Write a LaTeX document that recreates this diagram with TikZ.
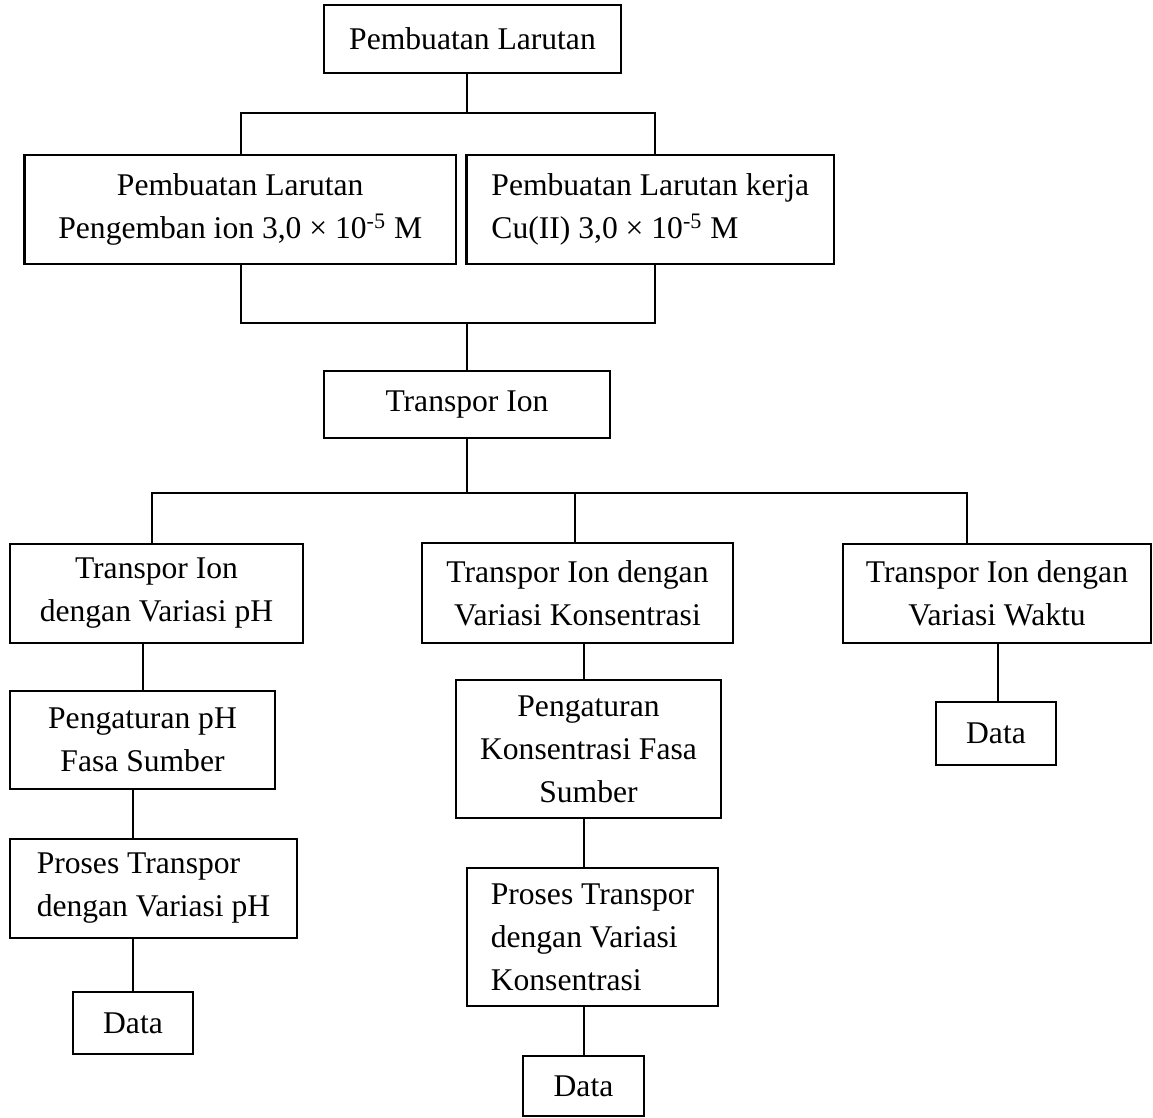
\documentclass[tikz,border=0pt]{standalone}
\usepackage{fontspec}
\setmainfont{Liberation Serif}
\begin{document}
\begin{tikzpicture}[x=0.5pt,y=-0.5pt,
  box/.style={draw,line width=1.1pt,inner sep=0pt,align=center,
    font=\fontsize{15.8pt}{21.5pt}\selectfont},
  lbox/.style={box,align=left},
  conn/.style={line width=1pt}]
\useasboundingbox (0,0) rectangle (1153,1118);
% boxes
\node[box,minimum width=148.5pt,minimum height=34pt] (b1) at (472.5,39) {Pembuatan Larutan};
\node[box,minimum width=215.75pt,minimum height=54.5pt] (b2) at (240.25,209.5) {Pembuatan Larutan\\Pengemban ion 3,0 × 10\textsuperscript{-5} M};
\node[lbox,minimum width=183.75pt,minimum height=54.5pt] (b3) at (650.25,209.5) {Pembuatan Larutan kerja\\Cu(II) 3,0 × 10\textsuperscript{-5} M};
\node[box,minimum width=143pt,minimum height=33.5pt] (b4) at (467,404.5) {Transpor Ion};
\node[box,minimum width=146.5pt,minimum height=49.5pt] (b5) at (156.5,593.5) {Transpor Ion\\dengan Variasi pH};
\node[box,minimum width=155.5pt,minimum height=50pt] (b6) at (577.5,593) {Transpor Ion dengan\\Variasi Konsentrasi};
\node[box,minimum width=154pt,minimum height=49.5pt] (b7) at (997,593.5) {Transpor Ion dengan\\Variasi Waktu};
\node[box,minimum width=132.5pt,minimum height=49pt] (b8) at (142.5,740) {Pengaturan pH\\Fasa Sumber};
\node[lbox,minimum width=143.5pt,minimum height=49.5pt] (b9) at (153.5,888.5) {Proses Transpor\\dengan Variasi pH};
\node[box,minimum width=60pt,minimum height=31pt] (b10) at (133,1023) {Data};
\node[box,minimum width=132.5pt,minimum height=69pt] (b11) at (588.5,749) {Pengaturan\\Konsentrasi Fasa\\Sumber};
\node[lbox,minimum width=125.5pt,minimum height=69pt] (b12) at (592.5,937) {Proses Transpor\\dengan Variasi\\Konsentrasi};
\node[box,minimum width=60.5pt,minimum height=30pt] (b13) at (583.5,1086) {Data};
\node[box,minimum width=60pt,minimum height=31.5pt] (b14) at (996,733.5) {Data};
% junction coordinates
\coordinate (j1) at (467,113);
\coordinate (j1l) at (241,113);
\coordinate (j1r) at (655,113);
\coordinate (j2) at (467,323);
\coordinate (j2l) at (241,323);
\coordinate (j2r) at (655,323);
\coordinate (j3) at (467,493);
\coordinate (j3l) at (152,493);
\coordinate (j3m) at (575,493);
\coordinate (j3r) at (967,493);
\coordinate (x5) at (143,0);
\coordinate (x8) at (133,0);
\coordinate (x6) at (584,0);
\coordinate (x7) at (998,0);
% connectors
\draw[conn] (b1.south -| j1) -- (j1);
\draw[conn] (b2.north -| j1l) -- (j1l) -- (j1r) -- (b3.north -| j1r);
\draw[conn] (b2.south -| j2l) -- (j2l) -- (j2r) -- (b3.south -| j2r);
\draw[conn] (j2) -- (b4.north -| j2);
\draw[conn] (b4.south -| j3) -- (j3);
\draw[conn] (b5.north -| j3l) -- (j3l) -- (j3r) -- (b7.north -| j3r);
\draw[conn] (j3m) -- (b6.north -| j3m);
\draw[conn] (b5.south -| x5) -- (b8.north -| x5);
\draw[conn] (b8.south -| x8) -- (b9.north -| x8);
\draw[conn] (b9.south -| x8) -- (b10.north -| x8);
\draw[conn] (b6.south -| x6) -- (b11.north -| x6);
\draw[conn] (b11.south -| x6) -- (b12.north -| x6);
\draw[conn] (b12.south -| x6) -- (b13.north -| x6);
\draw[conn] (b7.south -| x7) -- (b14.north -| x7);
\end{tikzpicture}
\end{document}
